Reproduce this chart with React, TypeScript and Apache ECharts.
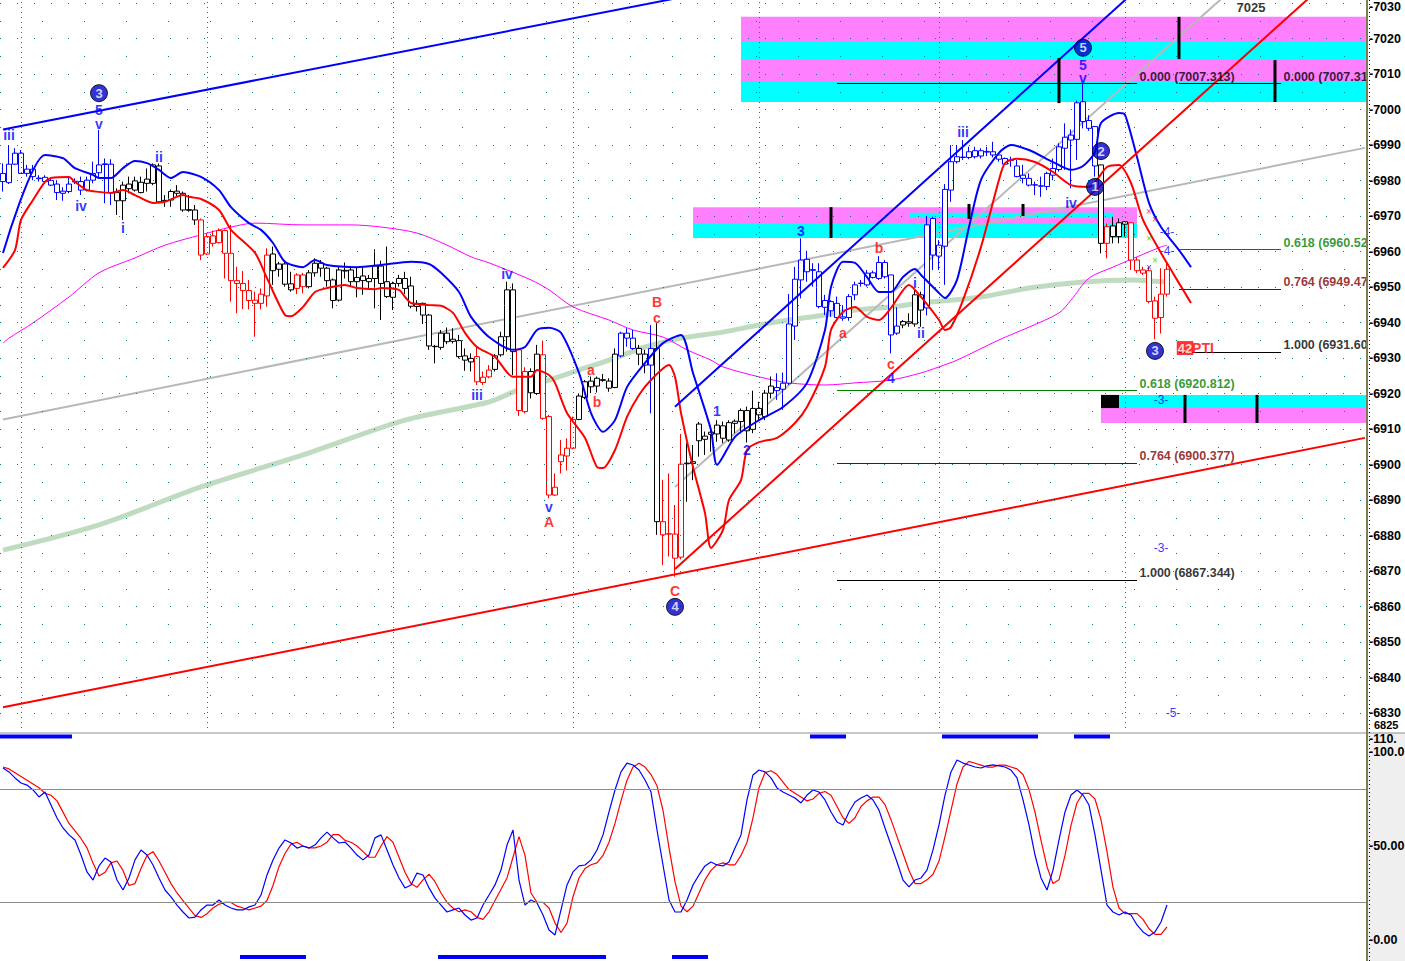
import React, { useEffect, useRef } from "react";
import * as echarts from "echarts";

// ---------- axis slots ----------
const SLOT_COUNT = 228;
const SLOTS = Array.from({ length: SLOT_COUNT }, (_, i) => String(i));

// ---------- candles ----------
const OPEN = [
  6982.0, 6979.4, 6984.6, 6987.7, 6982.0, 6983.2, 6980.7, 6980.9, 6980.0, 6979.0,
  6976.4, 6976.9, 6979.8, 6979.7, 6977.3, 6980.1, 6982.2, 6984.7, 6984.6, 6976.6,
  6974.3, 6979.0, 6977.3, 6979.5, 6980.4, 6979.2, 6984.1, 6974.4, 6974.5, 6977.0,
  6976.4, 6971.8, 6971.7, 6968.9, 6959.3, 6964.4, 6962.5, 6965.9, 6959.5, 6951.8,
  6951.0, 6949.0, 6946.3, 6945.4, 6947.5, 6959.3, 6955.0, 6956.5, 6950.9, 6949.6,
  6953.4, 6950.1, 6954.0, 6956.7, 6955.3, 6952.0, 6946.3, 6954.7, 6954.8, 6951.5,
  6953.1, 6951.5, 6952.4, 6955.9, 6951.5, 6947.1, 6951.0, 6952.4, 6950.3, 6944.5,
  6945.4, 6942.1, 6933.3, 6933.0, 6937.0, 6935.3, 6934.9, 6930.6, 6928.9, 6930.4,
  6923.1, 6924.7, 6926.8, 6930.9, 6936.0, 6949.2, 6932.3, 6914.9, 6926.2, 6920.0,
  6930.9, 6913.5, 6891.4, 6900.8, 6902.4, 6904.6, 6912.7, 6918.9, 6923.5, 6922.1,
  6923.9, 6923.5, 6921.7, 6930.6, 6937.0, 6935.6, 6932.7, 6931.1, 6928.0, 6932.7,
  6883.9, 6880.5, 6880.4, 6873.9, 6900.4, 6900.8, 6911.4, 6907.1, 6908.5, 6908.6,
  6910.9, 6906.9, 6911.6, 6912.1, 6915.2, 6909.9, 6915.8, 6913.5, 6920.1, 6921.7,
  6921.2, 6922.9, 6939.0, 6952.0, 6957.8, 6954.9, 6954.3, 6944.3, 6945.9, 6945.4,
  6941.6, 6941.4, 6947.8, 6951.1, 6950.6, 6954.0, 6952.4, 6956.9, 6953.4, 6937.0,
  6939.3, 6940.2, 6939.6, 6947.8, 6944.1, 6969.3, 6958.7, 6961.5, 6977.3, 6985.3,
  6986.6, 6986.5, 6988.4, 6986.9, 6988.2, 6988.1, 6987.2, 6986.2, 6985.8, 6984.1,
  6981.5, 6980.6, 6978.8, 6978.5, 6978.3, 6981.5, 6983.1, 6989.1, 6992.8, 6991.6,
  7002.2, 6996.9, 6995.2, 6984.4, 6962.3, 6967.2, 6964.2, 6968.4, 6968.1, 6957.6,
  6954.8, 6954.6, 6946.1, 6941.4, 6948.0,
];
const CLOSE = [
  6979.7, 6984.6, 6987.7, 6982.0, 6983.2, 6981.1, 6980.5, 6979.7, 6978.7, 6976.6,
  6977.0, 6979.0, 6979.6, 6977.3, 6980.1, 6982.0, 6984.4, 6984.5, 6976.6, 6974.3,
  6978.7, 6977.7, 6979.9, 6976.6, 6979.2, 6984.4, 6974.0, 6974.2, 6976.9, 6976.4,
  6971.7, 6971.6, 6968.9, 6959.0, 6964.2, 6962.3, 6965.9, 6959.5, 6951.8, 6951.0,
  6949.0, 6946.2, 6945.4, 6948.0, 6959.0, 6954.6, 6956.5, 6950.8, 6949.2, 6953.4,
  6950.1, 6954.0, 6956.7, 6955.3, 6951.8, 6946.2, 6954.8, 6954.5, 6951.5, 6952.7,
  6951.8, 6952.4, 6955.9, 6951.0, 6947.3, 6951.0, 6952.4, 6949.6, 6944.6, 6945.4,
  6942.1, 6933.4, 6933.2, 6937.0, 6934.6, 6934.7, 6930.4, 6929.4, 6929.9, 6923.3,
  6924.6, 6926.6, 6930.6, 6936.0, 6949.2, 6931.8, 6915.2, 6926.2, 6920.2, 6931.1,
  6913.0, 6891.4, 6893.6, 6902.7, 6904.6, 6912.7, 6919.3, 6923.3, 6921.9, 6924.3,
  6923.7, 6921.5, 6931.1, 6937.0, 6935.6, 6932.7, 6931.1, 6928.0, 6932.7, 6883.9,
  6880.2, 6880.4, 6873.6, 6900.1, 6900.2, 6900.3, 6906.7, 6908.0, 6909.1, 6911.1,
  6907.4, 6911.8, 6912.2, 6915.2, 6909.5, 6915.8, 6914.0, 6920.1, 6922.1, 6920.8,
  6922.9, 6939.6, 6952.2, 6957.6, 6954.3, 6954.7, 6944.5, 6946.2, 6943.3, 6941.4,
  6941.2, 6947.3, 6950.6, 6951.0, 6953.9, 6952.7, 6956.9, 6952.9, 6936.5, 6939.0,
  6940.3, 6939.8, 6947.8, 6943.5, 6967.5, 6959.0, 6961.8, 6977.5, 6985.3, 6986.7,
  6986.5, 6988.1, 6986.7, 6988.4, 6988.0, 6987.2, 6986.0, 6984.6, 6985.7, 6981.1,
  6980.6, 6978.7, 6978.7, 6978.4, 6982.0, 6983.4, 6989.5, 6992.2, 6991.4, 7001.9,
  6996.6, 6994.7, 6984.1, 6962.3, 6967.0, 6964.2, 6968.1, 6967.7, 6957.6, 6954.6,
  6953.9, 6945.9, 6941.2, 6948.0, 6955.0,
];
const HIGH = [
  6984.8, 6990.0, 6989.1, 6988.6, 6984.4, 6984.4, 6981.5, 6981.5, 6980.6, 6980.1,
  6978.1, 6981.1, 6980.6, 6981.1, 6981.1, 6985.3, 6994.2, 6986.2, 6986.0, 6977.8,
  6979.7, 6981.1, 6981.1, 6981.1, 6983.4, 6984.8, 6984.8, 6975.9, 6977.5, 6978.7,
  6976.9, 6975.9, 6973.1, 6969.3, 6965.1, 6965.9, 6966.5, 6966.2, 6967.5, 6955.7,
  6954.5, 6952.0, 6948.7, 6949.6, 6960.9, 6961.4, 6957.1, 6957.1, 6954.3, 6953.9,
  6954.0, 6954.8, 6958.1, 6957.6, 6955.7, 6952.4, 6955.7, 6956.9, 6955.7, 6955.7,
  6955.7, 6953.4, 6960.6, 6957.4, 6961.4, 6951.5, 6953.4, 6954.3, 6952.9, 6946.3,
  6945.6, 6942.4, 6933.7, 6937.9, 6938.6, 6938.4, 6936.5, 6932.7, 6931.3, 6933.2,
  6926.2, 6928.0, 6931.1, 6937.4, 6951.5, 6951.0, 6932.7, 6927.4, 6927.1, 6933.7,
  6934.9, 6914.0, 6897.5, 6906.9, 6907.4, 6913.5, 6920.1, 6923.8, 6924.8, 6924.8,
  6925.5, 6924.3, 6932.7, 6937.4, 6938.4, 6937.9, 6933.7, 6932.3, 6939.3, 6939.8,
  6895.7, 6897.5, 6888.6, 6908.6, 6906.0, 6905.5, 6912.0, 6909.3, 6911.1, 6912.5,
  6912.1, 6912.5, 6912.7, 6915.8, 6916.3, 6920.8, 6917.7, 6921.0, 6924.8, 6925.7,
  6925.9, 6948.0, 6955.7, 6963.7, 6960.2, 6956.7, 6956.7, 6947.8, 6946.3, 6947.3,
  6944.9, 6948.0, 6951.5, 6952.0, 6954.8, 6954.6, 6958.7, 6957.6, 6953.4, 6944.3,
  6940.7, 6942.6, 6949.2, 6948.7, 6970.0, 6969.8, 6963.2, 6979.0, 6990.0, 6990.0,
  6991.4, 6989.5, 6989.5, 6989.1, 6989.5, 6990.9, 6987.8, 6986.5, 6986.7, 6985.8,
  6984.4, 6982.0, 6979.7, 6981.1, 6982.5, 6986.2, 6990.5, 6996.1, 6994.4, 7002.5,
  7007.3, 6998.4, 6995.3, 6984.4, 6967.9, 6969.8, 6969.3, 6968.6, 6968.2, 6958.4,
  6955.7, 6955.7, 6947.3, 6955.3, 6957.1,
];
const LOW = [
  6976.9, 6979.0, 6984.4, 6982.0, 6981.1, 6980.1, 6979.7, 6979.2, 6978.4, 6974.5,
  6974.3, 6976.4, 6979.0, 6975.9, 6976.9, 6979.2, 6980.6, 6973.6, 6973.1, 6970.3,
  6968.9, 6976.4, 6976.9, 6976.4, 6976.9, 6978.7, 6973.6, 6972.6, 6972.6, 6975.5,
  6971.2, 6971.2, 6967.5, 6957.6, 6959.0, 6961.4, 6962.3, 6952.4, 6945.9, 6942.6,
  6943.8, 6943.7, 6936.0, 6943.7, 6944.5, 6950.6, 6952.9, 6950.1, 6948.7, 6948.0,
  6948.2, 6949.6, 6952.9, 6952.9, 6950.1, 6944.0, 6945.9, 6952.4, 6950.1, 6947.1,
  6947.8, 6949.6, 6944.0, 6940.7, 6946.9, 6943.5, 6950.1, 6948.0, 6944.0, 6943.1,
  6939.6, 6932.3, 6928.5, 6932.3, 6933.9, 6934.1, 6929.9, 6926.4, 6926.2, 6922.4,
  6922.4, 6924.3, 6926.2, 6930.4, 6931.8, 6925.2, 6913.7, 6914.4, 6918.6, 6919.6,
  6912.6, 6890.5, 6891.1, 6897.5, 6898.3, 6904.3, 6912.5, 6918.4, 6920.1, 6920.3,
  6923.3, 6920.5, 6921.5, 6930.2, 6933.2, 6932.3, 6928.0, 6925.7, 6914.4, 6880.2,
  6871.7, 6874.1, 6868.4, 6873.3, 6889.5, 6895.6, 6902.2, 6902.7, 6903.6, 6906.4,
  6906.0, 6906.4, 6908.8, 6908.8, 6906.2, 6908.8, 6912.5, 6912.5, 6918.6, 6918.2,
  6915.4, 6922.4, 6935.1, 6946.8, 6951.5, 6950.1, 6944.0, 6942.1, 6941.6, 6941.2,
  6940.5, 6940.5, 6946.3, 6950.1, 6950.1, 6952.4, 6952.0, 6952.4, 6931.3, 6936.5,
  6938.4, 6938.8, 6938.8, 6938.8, 6942.0, 6954.8, 6954.8, 6950.6, 6974.0, 6984.8,
  6985.8, 6986.0, 6986.2, 6986.2, 6986.9, 6986.5, 6985.3, 6984.4, 6983.9, 6980.9,
  6979.2, 6978.3, 6975.9, 6975.4, 6977.3, 6980.1, 6982.5, 6983.0, 6977.8, 6985.8,
  6994.7, 6994.0, 6981.1, 6959.5, 6958.1, 6962.3, 6962.3, 6964.2, 6954.8, 6953.9,
  6953.4, 6945.4, 6935.3, 6936.9, 6947.3,
];
// colour regime of each candle, as runs: B = blue, K = black, R = red
const CANDLE_COLOR_RUNS: [string, number][] = [
  ["B", 19], ["K", 14], ["R", 12], ["K", 4], ["R", 2], ["K", 28], ["R", 3], ["K", 4],
  ["R", 2], ["K", 2], ["R", 6], ["K", 7], ["B", 3], ["K", 2], ["B", 1], ["K", 1],
  ["R", 4], ["K", 15], ["B", 21], ["K", 4], ["B", 29], ["K", 1], ["R", 1], ["K", 3], ["R", 7],
];

// ---------- overlay curves: [bar index, price] ----------
const BLUE_BAND: [number, number][] = [
  [0, 6959.6], [7, 6987.2], [10, 6986.3], [12, 6983.5], [15, 6981.6], [16, 6980.7], [18, 6980.7],
  [20, 6983.5], [22, 6985.5], [24, 6984.9], [26, 6983.0], [28, 6980.7], [30, 6982.4], [33, 6981.0],
  [36, 6977.3], [38, 6972.5], [41, 6968.0], [43, 6966.1], [45, 6962.4], [47, 6957.1], [50, 6955.6],
  [52, 6957.6], [54, 6956.2], [59, 6955.6], [63, 6956.2], [68, 6957.1], [71, 6956.5], [73, 6954.0],
  [76, 6948.6], [78, 6941.6], [81, 6935.9], [85, 6932.3], [87, 6933.1], [89, 6937.9], [91, 6938.5],
  [93, 6937.1], [96, 6925.8], [98, 6914.5], [100, 6909.2], [102, 6912.5], [104, 6921.8], [107, 6928.6],
  [110, 6934.2], [113, 6936.5], [115, 6925.8], [118, 6909.7], [119, 6899.9], [122, 6907.8], [126, 6912.5],
  [130, 6916.2], [134, 6923.0], [137, 6937.9], [138, 6950.0], [140, 6957.1], [142, 6956.8], [144, 6952.8],
  [146, 6948.6], [148, 6948.6], [150, 6952.8], [152, 6955.1], [153, 6953.4], [156, 6948.3], [157, 6946.9],
  [159, 6952.0], [161, 6966.9], [163, 6980.2], [166, 6987.8], [168, 6990.0], [171, 6988.6], [175, 6985.2],
  [178, 6983.0], [180, 6984.1], [182, 6988.0], [183, 6996.2], [186, 6999.0], [187, 6998.5], [189, 6986.6],
  [191, 6973.7], [193, 6966.9], [196, 6960.4], [198, 6955.6],
];
const RED_BAND: [number, number][] = [
  [0, 6955.4], [2, 6960.4], [3, 6968.9], [5, 6974.5], [7, 6979.6], [8, 6980.7], [11, 6981.0], [12, 6979.6],
  [14, 6977.3], [16, 6976.8], [18, 6976.5], [20, 6977.3], [22, 6975.9], [25, 6973.7], [27, 6974.0],
  [30, 6975.9], [31, 6975.4], [33, 6974.8], [36, 6971.7], [38, 6966.1], [42, 6959.6], [44, 6952.5],
  [47, 6942.1], [48, 6941.8], [50, 6944.4], [52, 6948.6], [54, 6949.7], [57, 6950.6], [59, 6949.7],
  [62, 6949.4], [63, 6949.7], [66, 6949.2], [67, 6947.2], [68, 6945.5], [71, 6944.9], [73, 6944.7],
  [75, 6942.7], [77, 6937.1], [79, 6933.1], [82, 6930.3], [85, 6924.7], [88, 6924.7], [89, 6926.6],
  [91, 6925.2], [92, 6923.0], [94, 6914.5], [97, 6907.5], [99, 6899.3], [100, 6899.0], [102, 6904.1],
  [104, 6913.4], [106, 6919.6], [108, 6923.8], [111, 6928.0], [112, 6924.7], [113, 6914.5], [115, 6899.3],
  [117, 6886.3], [118, 6876.5], [120, 6881.6], [121, 6890.0], [123, 6895.6], [124, 6904.1], [126, 6906.3],
  [129, 6907.5], [132, 6911.7], [134, 6916.2], [137, 6927.5], [138, 6937.9], [140, 6943.0], [142, 6944.4],
  [144, 6941.6], [146, 6940.7], [148, 6944.1], [151, 6950.6], [153, 6947.2], [156, 6940.7], [157, 6937.9],
  [158, 6938.7], [160, 6946.3], [163, 6961.3], [166, 6980.2], [167, 6984.9], [169, 6986.1], [172, 6985.2],
  [175, 6982.4], [178, 6978.7], [181, 6978.2], [184, 6983.8], [186, 6984.4], [188, 6979.3], [190, 6968.9],
  [193, 6959.6], [195, 6953.9], [197, 6948.3], [198, 6945.5],
];
const MAGENTA_MA: [number, number][] = [
  [0, 6934.2], [1, 6935.6], [5, 6939.9], [11, 6947.2], [16, 6954.0], [22, 6958.2], [27, 6961.8],
  [33, 6964.7], [38, 6966.9], [42, 6968.0], [50, 6967.5], [58, 6967.5], [63, 6966.9], [69, 6965.2],
  [74, 6961.8], [78, 6958.5], [81, 6956.8], [88, 6952.0], [91, 6949.2], [95, 6944.4], [101, 6940.7],
  [105, 6937.9], [110, 6935.9], [114, 6932.3], [118, 6929.4], [120, 6927.5], [126, 6924.7], [131, 6923.0],
  [137, 6922.4], [142, 6923.0], [148, 6923.8], [153, 6925.8], [156, 6927.5], [159, 6929.4], [166, 6935.1],
  [171, 6938.7], [176, 6942.7], [178, 6946.3], [181, 6952.5], [185, 6955.6], [189, 6958.5], [193, 6961.3],
  [194, 6961.8],
];
const GREEN_MA: [number, number][] = [
  [0, 6875.9], [16, 6883.0], [33, 6893.7], [50, 6902.7], [67, 6912.5], [81, 6917.6], [85, 6920.4],
  [91, 6923.8], [96, 6926.6], [102, 6930.0], [107, 6933.1], [113, 6935.6], [120, 6937.3], [126, 6939.3],
  [131, 6940.7], [137, 6942.1], [142, 6943.5], [148, 6944.4], [153, 6945.5], [163, 6947.2], [171, 6949.7],
  [180, 6951.4], [188, 6952.0], [194, 6951.4],
];

// ---------- trend lines: two anchors each ----------
const TREND_BLUE_UPPER: [number, number][] = [[0, 6994.4], [120, 7033.9]];
const TREND_BLUE_STEEP: [number, number][] = [[112, 6916.25], [190, 7035.4]];
const TREND_GREY_STEEP: [number, number][] = [[112, 6893.7], [204, 7032.6]];
const TREND_GREY_LONG: [number, number][] = [[0, 6912.7], [227, 6989.2]];
const TREND_RED_STEEP: [number, number][] = [[112, 6870.6], [218, 7031.9]];
const TREND_RED_LONG: [number, number][] = [[0, 6831.6], [227, 6907.5]];

// ---------- price zones: [from, to, top, bottom, colour, extendToAxis] ----------
const PINK = "#ff80ff";
const CYAN = "#00ffff";
const ZONES: [number, number, number, number, string, number][] = [
  [123, 227, 7026.1, 7019.0, PINK, 1],
  [123, 227, 7019.0, 7014.2, CYAN, 1],
  [123, 227, 7014.2, 7008.0, PINK, 1],
  [123, 227, 7008.0, 7002.1, CYAN, 1],
  [115, 189, 6972.5, 6968.0, PINK, 0],
  [115, 189, 6968.0, 6963.8, CYAN, 0],
  [151, 185, 6970.9, 6969.7, CYAN, 0],
  [183, 227, 6919.6, 6915.9, CYAN, 1],
  [183, 227, 6915.9, 6911.7, PINK, 1],
  [183, 186, 6919.6, 6915.9, "#000000", 0],
];
// vertical black markers: [bar index, top, bottom]
const ZONE_MARKERS: [number, number, number][] = [
  [138, 6972.5, 6963.8], [161, 6973.4, 6969.2], [170, 6973.4, 6970.0],
  [176, 7014.5, 7001.8], [196, 7026.1, 7014.2], [212, 7013.9, 7002.1],
  [197, 6919.6, 6911.7], [209, 6919.6, 6911.7],
];

// ---------- Fibonacci levels ----------
const FIB_LEFT: [number, string, string][] = [
  [7007.313, "0.000 (7007.313)", "#000000"],
  [6920.812, "0.618 (6920.812)", "#008000"],
  [6900.377, "0.764 (6900.377)", "#800000"],
  [6867.344, "1.000 (6867.344)", "#000000"],
];
const FIB_LEFT_RANGE = [139, 189];
const FIB_RIGHT: [number, string, string][] = [
  [7007.313, "0.000 (7007.31", "#000000"],
  [6960.52, "0.618 (6960.52", "#008000"],
  [6949.47, "0.764 (6949.47", "#800000"],
  [6931.6, "1.000 (6931.60", "#000000"],
];
const FIB_RIGHT_RANGE = [196, 213];

// ---------- wave labels: [bar index, price, text, kind] ----------
const WAVE_LABELS: [number, number, string, string][] = [
  [16, 7004.6, "3", "c"], [16, 6999.9, "5", "b"], [16, 6996.0, "v", "b"],
  [1, 6992.8, "iii", "b"], [13, 6972.8, "iv", "b"], [20, 6966.6, "i", "b"], [26, 6986.6, "ii", "b"],
  [84, 6953.7, "iv", "b"], [79, 6919.6, "iii", "b"], [91, 6888.0, "v", "b"], [91, 6883.9, "A", "r"],
  [98, 6926.6, "a", "r"], [99, 6917.6, "b", "r"], [109, 6945.7, "B", "r"], [109, 6941.2, "c", "r"],
  [112, 6864.4, "C", "r"], [112, 6859.9, "4", "c"],
  [119, 6915.1, "1", "b"], [124, 6904.1, "2", "b"], [133, 6965.8, "3", "b"],
  [140, 6937.0, "a", "r"], [146, 6961.0, "b", "r"], [148, 6928.4, "c", "r"], [148, 6924.4, "4", "b"],
  [152, 6951.1, "i", "b"], [153, 6937.0, "ii", "b"], [160, 6993.7, "iii", "b"], [178, 6973.7, "iv", "b"],
  [180, 7017.4, "5", "c"], [180, 7012.6, "5", "b"], [180, 7008.8, "v", "b"],
  [183, 6988.3, "2", "c"], [182, 6978.2, "1", "c"], [192, 6932.0, "3", "c"],
  [194, 6965.5, "-4-", "s"], [194, 6960.1, "-4-", "s"],
  [193, 6918.2, "-3-", "s"], [193, 6876.5, "-3-", "s"], [195, 6830.0, "-5-", "s"],
  [208, 7028.6, "7025", "k"], [197, 6932.8, "42", "box"], [200, 6932.8, "PTI", "r"],
];
const CROSS_MARKS: [number, number, string][] = [
  [191, 6971.2, "#ff0000"], [192, 6969.0, "#ff0000"],
  [191, 6963.8, "#00cc00"], [192, 6957.4, "#00cc00"],
  [191, 6955.6, "#0000ff"],
];

// ---------- grid / axis ----------
const PRICE_TICKS = [
  6830, 6840, 6850, 6860, 6870, 6880, 6890, 6900, 6910, 6920, 6930,
  6940, 6950, 6960, 6970, 6980, 6990, 7000, 7010, 7020, 7030,
];
const PRICE_HALF_TICKS = [
  6835, 6845, 6855, 6865, 6875, 6885, 6895, 6905, 6915, 6925,
  6935, 6945, 6955, 6965, 6975, 6985, 6995, 7005, 7015, 7025,
];
const PRICE_BOTTOM_LABEL = 6826.5;
const DAY_BREAKS = [3, 34, 65, 95, 126, 156, 187];
const OSC_TICKS: [number, string][] = [[0, "0.00"], [50, "50.00"], [100, "100.0"], [107, "110."]];

// ---------- oscillator ----------
const OSC_FAST = [
  91.5, 89.4, 86.2, 83.5, 82.4, 79.8, 76.1, 78.7, 71.8, 64.9,
  59.6, 55.9, 53.2, 45.2, 36.2, 31.9, 39.4, 43.6, 41.5, 31.9,
  26.6, 33.0, 42.6, 47.9, 45.2, 39.9, 33.0, 26.6, 22.9, 18.6,
  14.9, 11.7, 12.2, 16.0, 18.6, 18.6, 21.3, 18.6, 17.0, 16.0,
  16.0, 17.6, 18.6, 23.9, 34.6, 42.6, 48.9, 53.2, 51.6, 48.9,
  50.0, 48.9, 50.5, 54.3, 57.4, 54.3, 51.6, 52.1, 48.9, 45.2,
  42.6, 45.2, 54.3, 55.9, 47.9, 39.9, 33.0, 27.7, 29.3, 35.6,
  34.6, 27.7, 22.3, 18.6, 14.9, 16.0, 17.0, 13.3, 10.6, 11.7,
  18.6, 23.9, 29.3, 37.2, 50.5, 58.5, 31.9, 18.6, 21.3, 19.7,
  13.3, 5.3, 2.7, 16.0, 29.3, 36.2, 39.4, 39.9, 42.6, 47.9,
  55.9, 68.1, 79.8, 89.4, 94.1, 93.1, 90.4, 85.1, 78.7, 58.5,
  39.9, 21.3, 14.9, 14.9, 21.3, 29.3, 34.6, 39.4, 41.5, 39.9,
  39.4, 41.5, 48.9, 55.9, 74.5, 87.8, 90.4, 89.4, 86.2, 80.9,
  78.7, 77.1, 75.5, 72.9, 77.1, 79.8, 78.7, 74.5, 68.1, 62.8,
  61.2, 68.1, 73.4, 75.5, 77.1, 74.5, 69.1, 59.6, 50.5, 41.5,
  31.9, 28.2, 31.9, 33.0, 37.2, 47.9, 61.2, 77.1, 89.4, 95.7,
  94.1, 93.1, 92.0, 91.5, 92.6, 93.1, 92.6, 92.0, 90.4, 86.2,
  74.5, 61.2, 45.2, 33.0, 26.6, 37.2, 53.2, 68.1, 77.1, 79.8,
  77.1, 71.8, 55.9, 37.2, 18.6, 14.9, 13.3, 14.9, 13.3, 8.0,
  4.3, 2.1, 4.3, 9.6, 18.6,
];
const OSC_SLOW = [
  92, 91, 89, 87, 85, 83, 81, 78, 77, 74,
  68, 62, 58, 54, 49, 41, 34, 36, 41, 42,
  37, 29, 30, 38, 45, 47, 42, 36, 30, 25,
  21, 17, 13, 12, 14, 17, 19, 20, 20, 18,
  17, 16, 17, 18, 21, 29, 39, 46, 51, 52,
  50, 49, 49, 50, 52, 56, 56, 53, 52, 50,
  47, 44, 44, 50, 55, 52, 44, 36, 30, 28,
  32, 35, 31, 25, 20, 17, 15, 16, 15, 12,
  11, 15, 21, 27, 33, 44, 55, 45, 25, 20,
  20, 17, 9, 4, 9, 23, 33, 38, 40, 41,
  45, 52, 62, 74, 85, 92, 94, 92, 88, 82,
  69, 49, 31, 18, 15, 18, 25, 32, 37, 40,
  41, 40, 40, 45, 52, 65, 81, 89, 90, 88,
  84, 80, 78, 76, 74, 75, 78, 79, 77, 71,
  65, 62, 65, 71, 74, 76, 76, 72, 64, 55,
  46, 37, 30, 30, 32, 35, 42, 55, 69, 83,
  92, 95, 94, 93, 92, 92, 93, 93, 92, 91,
  88, 80, 68, 53, 39, 30, 32, 45, 61, 73,
  78, 78, 75, 64, 47, 28, 17, 14, 14, 14,
  11, 6, 3, 3, 7,
];
const OSC_LEVELS = [80, 20];
// signal bars: [from, to, level]
const SIGNAL_BARS: [number, number, number][] = [
  [0, 11, 108.2], [135, 140, 108.2], [157, 172, 108.2], [179, 184, 108.2],
  [40, 50, -9.0], [73, 100, -9.0], [112, 117, -9.0],
];

// ---------- styling ----------
const PALETTE: Record<string, string> = { B: "#0000ff", K: "#000000", R: "#ff0000" };
const LABEL_FONT = '"Liberation Sans", Arial, sans-serif';
const PRICE_MIN = 6825.78;
const PRICE_MAX = 7030.85;

function buildOption() {
  const codes: string[] = [];
  CANDLE_COLOR_RUNS.forEach(([c, n]) => {
    for (let k = 0; k < n; k++) codes.push(c);
  });
  const candleData = OPEN.map((o, i) => {
    const col = PALETTE[codes[i]] || "#000";
    return {
      value: [o, CLOSE[i], LOW[i], HIGH[i]],
      itemStyle: { color: "#ffffff", color0: col, borderColor: col, borderColor0: col, borderWidth: 1 },
    };
  });

  const lineSeries = (data: [number, number][], color: string, width: number, z: number, smooth = 0) => ({
    type: "line",
    data,
    z,
    smooth,
    showSymbol: false,
    symbol: "none",
    silent: true,
    clip: true,
    lineStyle: { color, width },
  });

  const waveData = WAVE_LABELS.map(([i, p, text, kind]) => {
    if (kind === "c") {
      return {
        value: [i, p],
        symbol: "circle",
        symbolSize: 17,
        itemStyle: { color: "#0000c8", borderColor: "#000000", borderWidth: 1 },
        label: { show: true, position: "inside", formatter: text, color: "#ffffff", fontWeight: "bold", fontSize: 13, lineHeight: 12, fontFamily: LABEL_FONT },
      };
    }
    const style: any = { show: true, position: "inside", formatter: text, fontWeight: "bold", fontFamily: LABEL_FONT, fontSize: 14, lineHeight: 12 };
    if (kind === "b") style.color = "#0000ff";
    if (kind === "r") style.color = "#ff0000";
    if (kind === "k") { style.color = "#000000"; style.fontSize = 13; }
    if (kind === "s") { style.color = "#0000ff"; style.fontSize = 12; style.fontWeight = "normal"; }
    if (kind === "box") { style.color = "#ffffff"; style.backgroundColor = "#ff0000"; style.padding = [1, 1]; style.fontSize = 13; }
    return { value: [i, p], symbol: "circle", symbolSize: 1, itemStyle: { color: "rgba(0,0,0,0)" }, label: style };
  });

  const fibLabel = (range: number[], arr: [number, string, string][]) =>
    arr.map(([p, text, c]) => ({
      value: [range[1], p],
      label: { show: true, position: "right", distance: 2, offset: [0, -7], formatter: text, color: c, fontWeight: "bold", fontSize: 12.5, fontFamily: LABEL_FONT },
    }));
  const fibLines = (range: number[], arr: [number, string, string][]) =>
    arr.map(([p, , c]) => [
      { coord: [range[0], p], lineStyle: { color: c, width: 1, type: "solid" } },
      { coord: [range[1], p] },
    ]);

  const gridLines: any[] = [];
  PRICE_TICKS.forEach((p) => gridLines.push({ yAxis: p, lineStyle: { color: "#008080", width: 1, type: [1, 16] } }));
  PRICE_HALF_TICKS.forEach((p) => gridLines.push({ yAxis: p, lineStyle: { color: "#008080", width: 1, type: [1, 41] } }));
  DAY_BREAKS.forEach((i) => gridLines.push({ xAxis: i, lineStyle: { color: "#008080", width: 1, type: [1, 4] } }));

  return {
    animation: false,
    backgroundColor: "#ffffff",
    grid: [
      { left: 0, top: 0, width: 1368, height: 728 },
      { left: 0, top: 733, width: 1368, height: 228 },
    ],
    xAxis: [
      { type: "category", data: SLOTS, gridIndex: 0, show: false, boundaryGap: true },
      { type: "category", data: SLOTS, gridIndex: 1, show: false, boundaryGap: true },
    ],
    yAxis: [
      { type: "value", gridIndex: 0, min: PRICE_MIN, max: PRICE_MAX, show: false, splitLine: { show: false } },
      { type: "value", gridIndex: 1, min: -11.17, max: 110.1, show: false, splitLine: { show: false } },
    ],
    series: [
      {
        type: "line",
        z: 0,
        data: [[0, 6700]],
        showSymbol: false,
        silent: true,
        lineStyle: { width: 0 },
        markLine: { silent: true, symbol: ["none", "none"], label: { show: false }, animation: false, data: gridLines },
      },
      {
        type: "custom",
        z: 1,
        silent: true,
        encode: { x: [0, 1], y: [2, 3] },
        data: ZONES.map((zn) => ({ value: [zn[0], zn[1], zn[2], zn[3], zn[5]], itemStyle: { color: zn[4] } })),
        renderItem: (params: any, api: any) => {
          const a = api.coord([api.value(0), api.value(2)]);
          const b = api.coord([api.value(1), api.value(3)]);
          const cs = params.coordSys;
          const right = api.value(4) === 1 ? cs.x + cs.width : b[0];
          const shape = echarts.graphic.clipRectByRect(
            { x: a[0], y: Math.min(a[1], b[1]), width: right - a[0], height: Math.abs(b[1] - a[1]) },
            { x: cs.x, y: cs.y, width: cs.width, height: cs.height }
          );
          if (!shape) return null;
          return { type: "rect", shape, style: { fill: api.visual("color") } };
        },
      },
      lineSeries(GREEN_MA, "#c0dcc0", 5, 2, 0.3),
      lineSeries(TREND_GREY_LONG, "#b8b8b8", 2, 2),
      lineSeries(TREND_GREY_STEEP, "#b8b8b8", 2, 2),
      lineSeries(MAGENTA_MA, "#ff00ff", 1, 2, 0.3),
      {
        type: "candlestick",
        z: 3,
        silent: true,
        barWidth: 5,
        data: candleData,
      },
      lineSeries(BLUE_BAND, "#0000ff", 2, 4, 0.25),
      lineSeries(RED_BAND, "#ff0000", 2, 4, 0.25),
      lineSeries(TREND_BLUE_UPPER, "#0000ff", 2, 4),
      lineSeries(TREND_BLUE_STEEP, "#0000ff", 2, 4),
      lineSeries(TREND_RED_STEEP, "#ff0000", 2, 4),
      lineSeries(TREND_RED_LONG, "#ff0000", 2, 4),
      {
        type: "line",
        z: 5,
        data: [[0, 6700]],
        showSymbol: false,
        silent: true,
        lineStyle: { width: 0 },
        markLine: {
          silent: true,
          symbol: ["none", "none"],
          label: { show: false },
          animation: false,
          data: [...fibLines(FIB_LEFT_RANGE, FIB_LEFT), ...fibLines(FIB_RIGHT_RANGE, FIB_RIGHT)],
        },
      },
      {
        type: "custom",
        z: 5,
        silent: true,
        encode: { x: 0, y: [1, 2] },
        data: ZONE_MARKERS,
        renderItem: (params: any, api: any) => {
          const t = api.coord([api.value(0), api.value(1)]);
          const b = api.coord([api.value(0), api.value(2)]);
          return { type: "rect", shape: { x: t[0] - 1.5, y: t[1], width: 3, height: b[1] - t[1] }, style: { fill: "#000000" } };
        },
      },
      {
        type: "scatter",
        z: 6,
        silent: true,
        symbolSize: 1,
        itemStyle: { color: "rgba(0,0,0,0)" },
        data: [...fibLabel(FIB_LEFT_RANGE, FIB_LEFT), ...fibLabel(FIB_RIGHT_RANGE, FIB_RIGHT)],
      },
      {
        type: "scatter",
        z: 7,
        silent: true,
        data: waveData,
      },
      {
        type: "scatter",
        z: 7,
        silent: true,
        symbolSize: 1,
        itemStyle: { color: "rgba(0,0,0,0)" },
        data: CROSS_MARKS.map(([i, p, c]) => ({
          value: [i, p],
          label: { show: true, position: "inside", formatter: "\u00d7", color: c, fontSize: 10, fontFamily: LABEL_FONT },
        })),
      },
      // ---- lower pane ----
      {
        type: "line",
        xAxisIndex: 1,
        yAxisIndex: 1,
        z: 3,
        data: OSC_SLOW,
        showSymbol: false,
        silent: true,
        lineStyle: { color: "#ff0000", width: 1.2 },
      },
      {
        type: "line",
        xAxisIndex: 1,
        yAxisIndex: 1,
        z: 4,
        data: OSC_FAST,
        showSymbol: false,
        silent: true,
        lineStyle: { color: "#0000ff", width: 1.2 },
        markLine: {
          silent: true,
          symbol: ["none", "none"],
          label: { show: false },
          animation: false,
          lineStyle: { color: "#8c8c8c", width: 1, type: "solid" },
          data: OSC_LEVELS.map((v) => ({ yAxis: v })),
        },
      },
      {
        type: "custom",
        xAxisIndex: 1,
        yAxisIndex: 1,
        z: 5,
        silent: true,
        encode: { x: [0, 1], y: 2 },
        data: SIGNAL_BARS,
        renderItem: (params: any, api: any) => {
          const a = api.coord([api.value(0), api.value(2)]);
          const b = api.coord([api.value(1), api.value(2)]);
          const w = api.size([1, 0])[0];
          return { type: "rect", shape: { x: a[0] - w / 2, y: a[1] - 2, width: b[0] - a[0] + w, height: 4 }, style: { fill: "#0000ff" } };
        },
      },
    ],
  };
}

export default function App() {
  const ref = useRef<HTMLDivElement>(null);
  useEffect(() => {
    if (!ref.current) return;
    const chart = echarts.init(ref.current, null, { renderer: "svg" });
    chart.setOption(buildOption());

    const axisFont = 'bold 12.5px "Liberation Sans", Arial, sans-serif';
    const g: any[] = [];
    g.push({ type: "rect", z: 100, silent: true, shape: { x: 1367, y: 0, width: 38, height: 733 }, style: { fill: "#ffffff" } });
    g.push({ type: "rect", z: 100, silent: true, shape: { x: 1367, y: 733, width: 38, height: 228 }, style: { fill: "#efefef" } });
    g.push({ type: "line", z: 101, silent: true, shape: { x1: 0, y1: 733, x2: 1405, y2: 733 }, style: { stroke: "#909090", lineWidth: 1 } });
    g.push({ type: "line", z: 101, silent: true, shape: { x1: 1367, y1: 0, x2: 1367, y2: 961 }, style: { stroke: "#7d7d52", lineWidth: 2 } });
    g.push({ type: "line", z: 101, silent: true, shape: { x1: 1369.5, y1: 0, x2: 1369.5, y2: 961 }, style: { stroke: "#000000", lineWidth: 1, lineDash: [1, 3] } });
    PRICE_TICKS.forEach((p) => {
      const y = Math.max(7, chart.convertToPixel({ yAxisIndex: 0 }, p) as number);
      g.push({
        type: "text", z: 102, silent: true, x: 1369, y,
        style: { text: "-" + p, fill: "#000000", font: axisFont, align: "left", verticalAlign: "middle", textAlign: "left", textVerticalAlign: "middle" },
      });
    });
    {
      const y = chart.convertToPixel({ yAxisIndex: 0 }, PRICE_BOTTOM_LABEL) as number;
      g.push({
        type: "text", z: 102, silent: true, x: 1374, y,
        style: { text: "6825", fill: "#000000", font: 'bold 11px "Liberation Sans", Arial, sans-serif', align: "left", verticalAlign: "middle", textAlign: "left", textVerticalAlign: "middle" },
      });
    }
    OSC_TICKS.forEach(([v, t]) => {
      const y = chart.convertToPixel({ yAxisIndex: 1 }, v) as number;
      g.push({
        type: "text", z: 102, silent: true, x: 1369, y,
        style: { text: "-" + t, fill: "#000000", font: axisFont, align: "left", verticalAlign: "middle", textAlign: "left", textVerticalAlign: "middle" },
      });
    });
    chart.setOption({ graphic: g });

    return () => chart.dispose();
  }, []);
  return <div ref={ref} style={{ position: "absolute", left: 0, top: 0, width: 1405, height: 961, background: "#ffffff" }} />;
}
